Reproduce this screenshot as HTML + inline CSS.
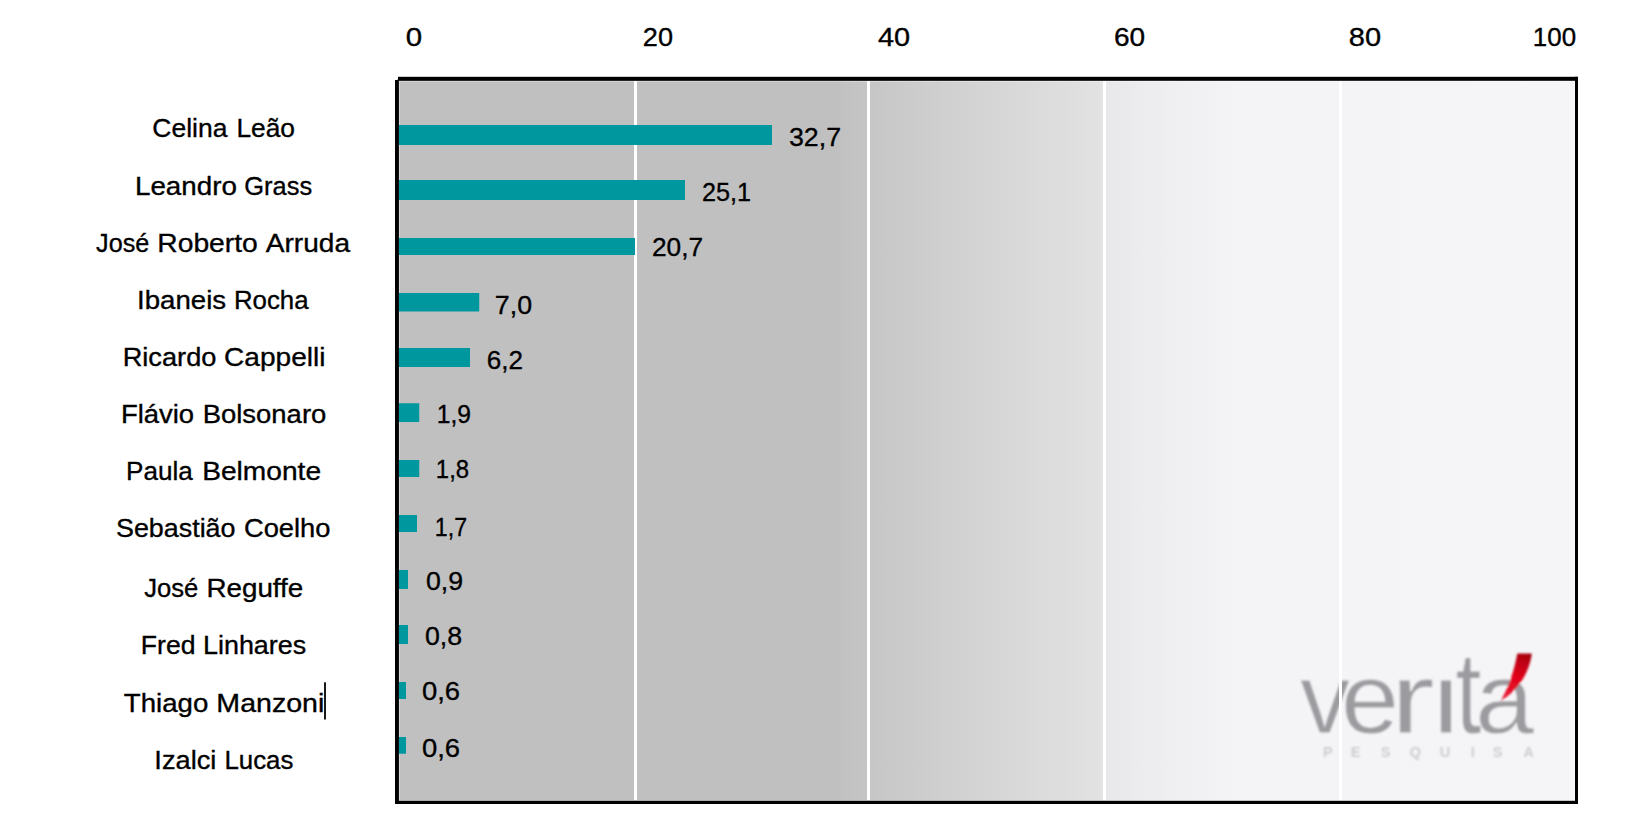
<!DOCTYPE html>
<html lang="pt-BR">
<head>
<meta charset="utf-8">
<title>Pesquisa Veritá</title>
<style>
html,body{margin:0;padding:0;background:#fff;}
body{width:1648px;height:836px;overflow:hidden;}
svg{display:block;}
text{font-family:"Liberation Sans",sans-serif;font-size:26px;fill:#000;stroke:#000;stroke-width:0.35px;}
.logo text{fill:#9c9ca0;stroke:#f4f4f6;stroke-width:0.8px;}
</style>
</head>
<body>
<svg width="1648" height="836" viewBox="0 0 1648 836">
<defs>
<linearGradient id="bg" gradientUnits="userSpaceOnUse" x1="399" y1="0" x2="1575" y2="0">
<stop offset="0.0000" stop-color="#c0c0c0"/>
<stop offset="0.3707" stop-color="#c0c0c0"/>
<stop offset="0.4005" stop-color="#c6c6c6"/>
<stop offset="0.4770" stop-color="#d2d2d2"/>
<stop offset="0.5961" stop-color="#e2e2e3"/>
<stop offset="0.6012" stop-color="#e8e8ea"/>
<stop offset="0.6556" stop-color="#efeff1"/>
<stop offset="0.7151" stop-color="#f4f4f6"/>
<stop offset="1.0000" stop-color="#f5f5f7"/>
</linearGradient>
<linearGradient id="red" gradientUnits="userSpaceOnUse" x1="1526" y1="653" x2="1503" y2="700">
<stop offset="0" stop-color="#a3000e"/><stop offset="0.22" stop-color="#c30013"/><stop offset="0.5" stop-color="#e2001a"/><stop offset="1" stop-color="#e8203a"/>
</linearGradient>
<clipPath id="nodot"><rect x="1290" y="640" width="144" height="110"/><rect x="1434" y="677" width="22" height="73"/><rect x="1456" y="640" width="34" height="110"/><rect x="1490" y="677" width="66" height="73"/></clipPath>
<filter id="blur" x="-10%" y="-10%" width="120%" height="120%"><feGaussianBlur stdDeviation="1.3"/></filter>
<filter id="blur2" x="-10%" y="-50%" width="120%" height="200%"><feGaussianBlur stdDeviation="0.9"/></filter>
</defs>

<rect x="397" y="79" width="1180" height="723" fill="url(#bg)"/>
<g class="logo">
<g filter="url(#blur)">
<g clip-path="url(#nodot)">
<text id="logo1" y="733" style="font-size:100px"><tspan x="1300">v</tspan><tspan x="1341" textLength="58" lengthAdjust="spacingAndGlyphs">e</tspan><tspan x="1390" textLength="45" lengthAdjust="spacingAndGlyphs">r</tspan><tspan x="1432" textLength="28" lengthAdjust="spacingAndGlyphs">i</tspan><tspan x="1455.5" style="font-size:116px" textLength="26" lengthAdjust="spacingAndGlyphs">t</tspan><tspan x="1475" textLength="59" lengthAdjust="spacingAndGlyphs">á</tspan></text>
</g>
<path d="M1517.3 653.4 L1531.8 653.4 C1530 668 1522 688 1500.5 701.2 C1508 688 1514 672 1517.3 653.4 Z" fill="url(#red)"/>
</g>
<g filter="url(#blur2)"><text id="logo2" y="757.3" text-anchor="middle" x="1327.9 1355.5 1385.5 1415.5 1445 1472.7 1497.6 1528.7" style="font-size:14.5px;font-weight:bold;fill:#cdcdd1;stroke:none">PESQUISA</text></g>
</g>
<rect x="399.5" y="81.5" width="1175" height="719" fill="none" stroke="#fff" stroke-opacity="0.32" stroke-width="1"/>
<rect x="634" y="81" width="3" height="719" fill="#fff"/>
<rect x="867" y="81" width="3" height="719" fill="#fff"/>
<rect x="1103" y="81" width="3" height="719" fill="#fff"/>
<rect x="1339" y="81" width="3" height="719" fill="#fff"/>
<rect x="399" y="125" width="373" height="20" fill="#00979e"/>
<rect x="399" y="180" width="286" height="20" fill="#00979e"/>
<rect x="399" y="238" width="236" height="17" fill="#00979e"/>
<rect x="399" y="293" width="80.25" height="18.5" fill="#00979e"/>
<rect x="399" y="348" width="71" height="19" fill="#00979e"/>
<rect x="399" y="403.25" width="20.25" height="18.75" fill="#00979e"/>
<rect x="399" y="460" width="20.25" height="17" fill="#00979e"/>
<rect x="399" y="515" width="18" height="17" fill="#00979e"/>
<rect x="399" y="570" width="9" height="19" fill="#00979e"/>
<rect x="399" y="625" width="9" height="19" fill="#00979e"/>
<rect x="399" y="682" width="7" height="17" fill="#00979e"/>
<rect x="399" y="737" width="7" height="16.75" fill="#00979e"/>
<rect x="398" y="76.8" width="1180" height="4" fill="#000"/>
<rect x="395" y="800.8" width="1183" height="3.2" fill="#000"/>
<rect x="395" y="80" width="3.9" height="724" fill="#000"/>
<rect x="1575" y="76.8" width="3" height="727.2" fill="#000"/>
<text id="lab0" y="136.50"><tspan id="lab0w0" x="152.32" textLength="75.09" lengthAdjust="spacingAndGlyphs">Celina</tspan> <tspan id="lab0w1" x="236.42" textLength="58.58" lengthAdjust="spacingAndGlyphs">Leão</tspan></text>
<text id="lab1" y="195.00"><tspan id="lab1w0" x="134.98" textLength="101.92" lengthAdjust="spacingAndGlyphs">Leandro</tspan> <tspan id="lab1w1" x="244.31" textLength="67.79" lengthAdjust="spacingAndGlyphs">Grass</tspan></text>
<text id="lab2" y="252.00"><tspan id="lab2w0" x="96.11" textLength="53.15" lengthAdjust="spacingAndGlyphs">José</tspan> <tspan id="lab2w1" x="157.30" textLength="100.51" lengthAdjust="spacingAndGlyphs">Roberto</tspan> <tspan id="lab2w2" x="265.81" textLength="84.19" lengthAdjust="spacingAndGlyphs">Arruda</tspan></text>
<text id="lab3" y="308.75"><tspan id="lab3w0" x="136.99" textLength="89.12" lengthAdjust="spacingAndGlyphs">Ibaneis</tspan> <tspan id="lab3w1" x="233.93" textLength="74.67" lengthAdjust="spacingAndGlyphs">Rocha</tspan></text>
<text id="lab4" y="365.50"><tspan id="lab4w0" x="122.70" textLength="93.70" lengthAdjust="spacingAndGlyphs">Ricardo</tspan> <tspan id="lab4w1" x="224.10" textLength="101.38" lengthAdjust="spacingAndGlyphs">Cappelli</tspan></text>
<text id="lab5" y="423.00"><tspan id="lab5w0" x="120.90" textLength="73.20" lengthAdjust="spacingAndGlyphs">Flávio</tspan> <tspan id="lab5w1" x="202.71" textLength="123.59" lengthAdjust="spacingAndGlyphs">Bolsonaro</tspan></text>
<text id="lab6" y="480.00"><tspan id="lab6w0" x="125.99" textLength="66.71" lengthAdjust="spacingAndGlyphs">Paula</tspan> <tspan id="lab6w1" x="202.20" textLength="118.89" lengthAdjust="spacingAndGlyphs">Belmonte</tspan></text>
<text id="lab7" y="537.00"><tspan id="lab7w0" x="116.02" textLength="119.48" lengthAdjust="spacingAndGlyphs">Sebastião</tspan> <tspan id="lab7w1" x="243.92" textLength="86.58" lengthAdjust="spacingAndGlyphs">Coelho</tspan></text>
<text id="lab8" y="597.00"><tspan id="lab8w0" x="144.21" textLength="54.05" lengthAdjust="spacingAndGlyphs">José</tspan> <tspan id="lab8w1" x="206.40" textLength="96.89" lengthAdjust="spacingAndGlyphs">Reguffe</tspan></text>
<text id="lab9" y="654.00"><tspan id="lab9w0" x="140.88" textLength="54.62" lengthAdjust="spacingAndGlyphs">Fred</tspan> <tspan id="lab9w1" x="203.00" textLength="103.20" lengthAdjust="spacingAndGlyphs">Linhares</tspan></text>
<text id="lab10" y="711.50"><tspan id="lab10w0" x="123.81" textLength="84.46" lengthAdjust="spacingAndGlyphs">Thiago</tspan> <tspan id="lab10w1" x="216.38" textLength="107.93" lengthAdjust="spacingAndGlyphs">Manzoni</tspan></text>
<text id="lab11" y="768.50"><tspan id="lab11w0" x="154.39" textLength="62.02" lengthAdjust="spacingAndGlyphs">Izalci</tspan> <tspan id="lab11w1" x="224.40" textLength="69.00" lengthAdjust="spacingAndGlyphs">Lucas</tspan></text>
<text id="val0" x="788.96" y="146.25" textLength="52.08" lengthAdjust="spacingAndGlyphs">32,7</text>
<text id="val1" x="701.96" y="201.00" textLength="49.09" lengthAdjust="spacingAndGlyphs">25,1</text>
<text id="val2" x="651.97" y="255.50" textLength="51.10" lengthAdjust="spacingAndGlyphs">20,7</text>
<text id="val3" x="494.86" y="313.75" textLength="37.25" lengthAdjust="spacingAndGlyphs">7,0</text>
<text id="val4" x="486.88" y="368.75" textLength="36.25" lengthAdjust="spacingAndGlyphs">6,2</text>
<text id="val5" x="436.83" y="423.00" textLength="34.24" lengthAdjust="spacingAndGlyphs">1,9</text>
<text id="val6" x="435.84" y="478.25" textLength="33.27" lengthAdjust="spacingAndGlyphs">1,8</text>
<text id="val7" x="434.86" y="535.50" textLength="32.25" lengthAdjust="spacingAndGlyphs">1,7</text>
<text id="val8" x="425.95" y="589.50" textLength="37.16" lengthAdjust="spacingAndGlyphs">0,9</text>
<text id="val9" x="424.90" y="645.00" textLength="37.21" lengthAdjust="spacingAndGlyphs">0,8</text>
<text id="val10" x="421.93" y="700.00" textLength="38.15" lengthAdjust="spacingAndGlyphs">0,6</text>
<text id="val11" x="421.93" y="757.00" textLength="38.15" lengthAdjust="spacingAndGlyphs">0,6</text>
<text id="ax0" x="405.85" y="46.00" textLength="16.39" lengthAdjust="spacingAndGlyphs">0</text>
<text id="ax1" x="642.89" y="46.00" textLength="30.17" lengthAdjust="spacingAndGlyphs">20</text>
<text id="ax2" x="877.95" y="46.00" textLength="32.13" lengthAdjust="spacingAndGlyphs">40</text>
<text id="ax3" x="1113.93" y="46.00" textLength="31.18" lengthAdjust="spacingAndGlyphs">60</text>
<text id="ax4" x="1348.83" y="46.00" textLength="32.28" lengthAdjust="spacingAndGlyphs">80</text>
<text id="ax5" x="1532.87" y="46.00" textLength="43.27" lengthAdjust="spacingAndGlyphs">100</text>
<rect x="324.1" y="682.3" width="1.8" height="37.2" fill="#000"/>
</svg>
</body>
</html>
